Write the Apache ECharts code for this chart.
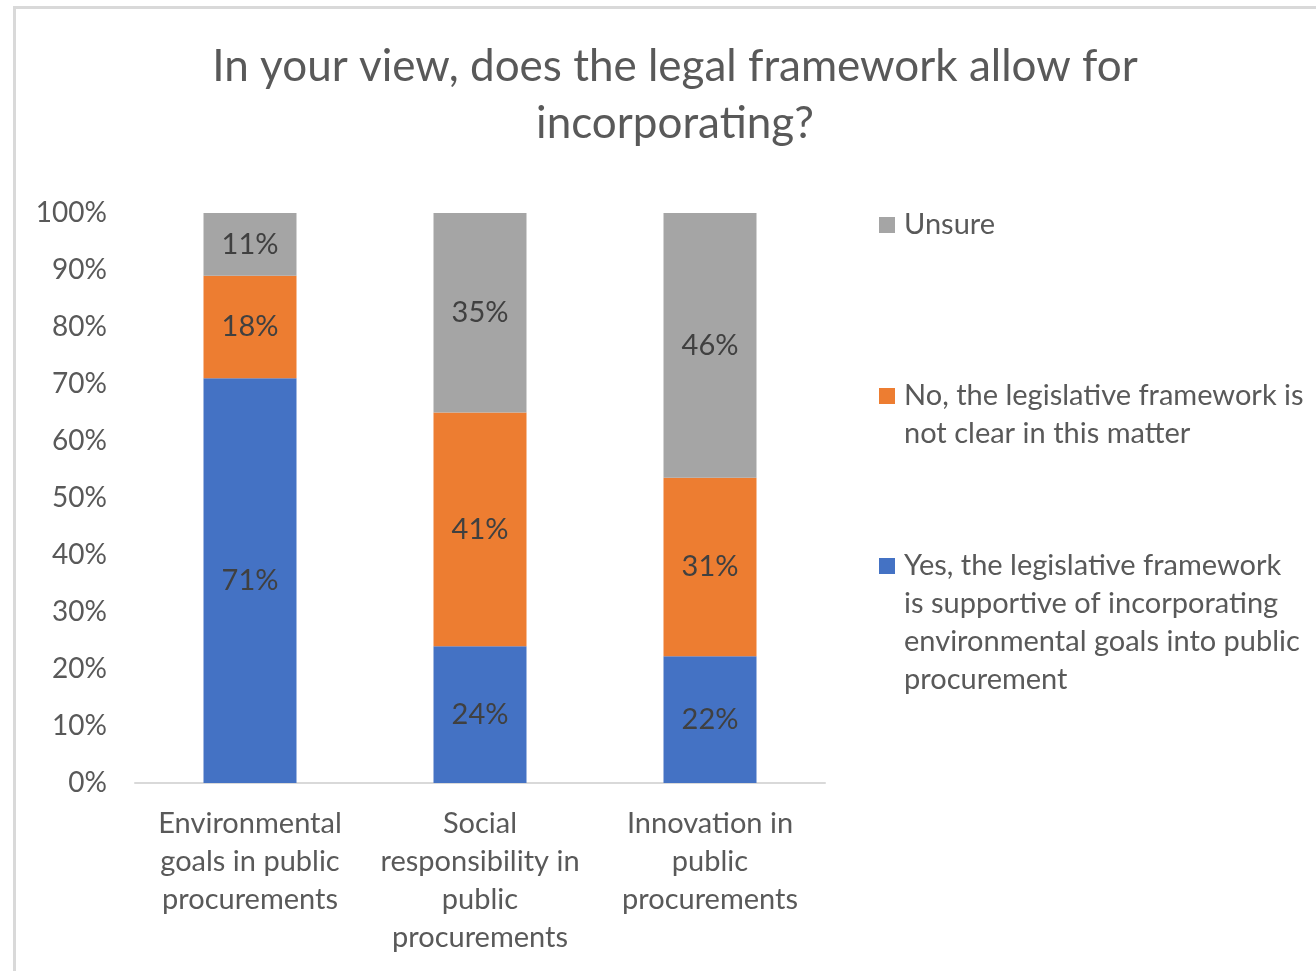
<!DOCTYPE html>
<html>
<head>
<meta charset="utf-8">
<script src="https://cdn.jsdelivr.net/npm/echarts@6/dist/echarts.min.js"></script>
<style>
  html, body { margin: 0; padding: 0; background: #ffffff; }
  #frame { position: absolute; left: 13px; top: 6px; width: 1400px; height: 1100px; border: 3px solid #d9d9d9; box-sizing: border-box; }
  #chart { position: absolute; left: 0; top: 0; width: 1316px; height: 971px; }
</style>
</head>
<body>
<div id="frame"></div>
<div id="chart"></div>
<script>
// Survey question and answer groups
const titleText = 'In your view, does the legal framework allow for\nincorporating?';
const categories = [
  'Environmental\ngoals in public\nprocurements',
  'Social\nresponsibility in\npublic\nprocurements',
  'Innovation in\npublic\nprocurements'
];
const seriesNames = [
  'Yes, the legislative framework is supportive of incorporating environmental goals into public procurement',
  'No, the legislative framework is not clear in this matter',
  'Unsure'
];
// Legend text wrapped as shown beside the chart
const legendLines = [
  ['Yes, the legislative framework', 'is supportive of incorporating', 'environmental goals into public', 'procurement'],
  ['No, the legislative framework is', 'not clear in this matter'],
  ['Unsure']
];
// Share of respondents (%) per answer, in category order
const yesValues = [71, 24, 22];
const noValues = [18, 41, 31];
const unsureValues = [11, 35, 46];
const yTicks = [0, 10, 20, 30, 40, 50, 60, 70, 80, 90, 100];

const colors = ['#4472C4', '#ED7D31', '#A5A5A5'];
const FONT = 'Lato';
const FS = 29;
const rawSeries = [yesValues, noValues, unsureValues];
const totals = categories.map((_, i) => rawSeries.reduce((s, arr) => s + arr[i], 0));

const chart = echarts.init(document.getElementById('chart'), null, { renderer: 'canvas' });

const LH = 38;
const ICON = 16;
// top edge of each legend marker (Yes, No, Unsure)
const legendIconTops = [558, 388, 217];
const legends = seriesNames.map((name, k) => {
  const n = legendLines[k].length;
  // the legend centres its text on the marker; blank leading lines put the
  // first text line level with the marker
  const lead = new Array(n - 1).fill('').join('\n') + (n > 1 ? '\n' : '');
  const offset = (2 * n - 1) * LH / 2 - ICON / 2;
  return {
    data: [name],
    orient: 'vertical',
    left: 879,
    top: legendIconTops[k] - offset,
    padding: 0,
    icon: 'rect',
    itemWidth: ICON,
    itemHeight: ICON,
    selectedMode: false,
    formatter: () => lead + legendLines[k].join('\n'),
    textStyle: {
      fontFamily: FONT,
      fontSize: FS,
      color: '#595959',
      lineHeight: LH,
      padding: [0, 0, 0, 4]
    }
  };
});

const series = rawSeries.map((vals, k) => ({
  name: seriesNames[k],
  type: 'bar',
  stack: 'total',
  barWidth: 93,
  itemStyle: { color: colors[k] },
  label: {
    show: true,
    position: 'inside',
    fontFamily: FONT,
    fontSize: FS,
    color: '#404040',
    formatter: p => vals[p.dataIndex] + '%'
  },
  data: vals.map((v, i) => v / totals[i] * 100)
}));

chart.setOption({
  animation: false,
  backgroundColor: 'transparent',
  title: {
    text: titleText,
    left: 675,
    textAlign: 'center',
    top: 38,
    padding: 0,
    textStyle: { fontFamily: FONT, fontSize: 44, fontWeight: 'normal', color: '#595959', lineHeight: 57 }
  },
  legend: legends,
  grid: { left: 135, right: 491, top: 213, bottom: 188, containLabel: false },
  xAxis: {
    type: 'category',
    data: categories,
    axisLine: { show: true, lineStyle: { color: '#d9d9d9', width: 2 } },
    axisTick: { show: false },
    axisLabel: {
      interval: 0,
      margin: 22,
      fontFamily: FONT,
      fontSize: FS,
      color: '#595959',
      lineHeight: LH,
      align: 'center'
    }
  },
  yAxis: {
    type: 'value',
    min: yTicks[0],
    max: yTicks[yTicks.length - 1],
    interval: 10,
    axisLine: { show: false },
    axisTick: { show: false },
    splitLine: { show: false },
    axisLabel: {
      margin: 28,
      fontFamily: FONT,
      fontSize: 28,
      color: '#595959',
      formatter: v => v + '%'
    }
  },
  series: series
});
</script>
</body>
</html>
